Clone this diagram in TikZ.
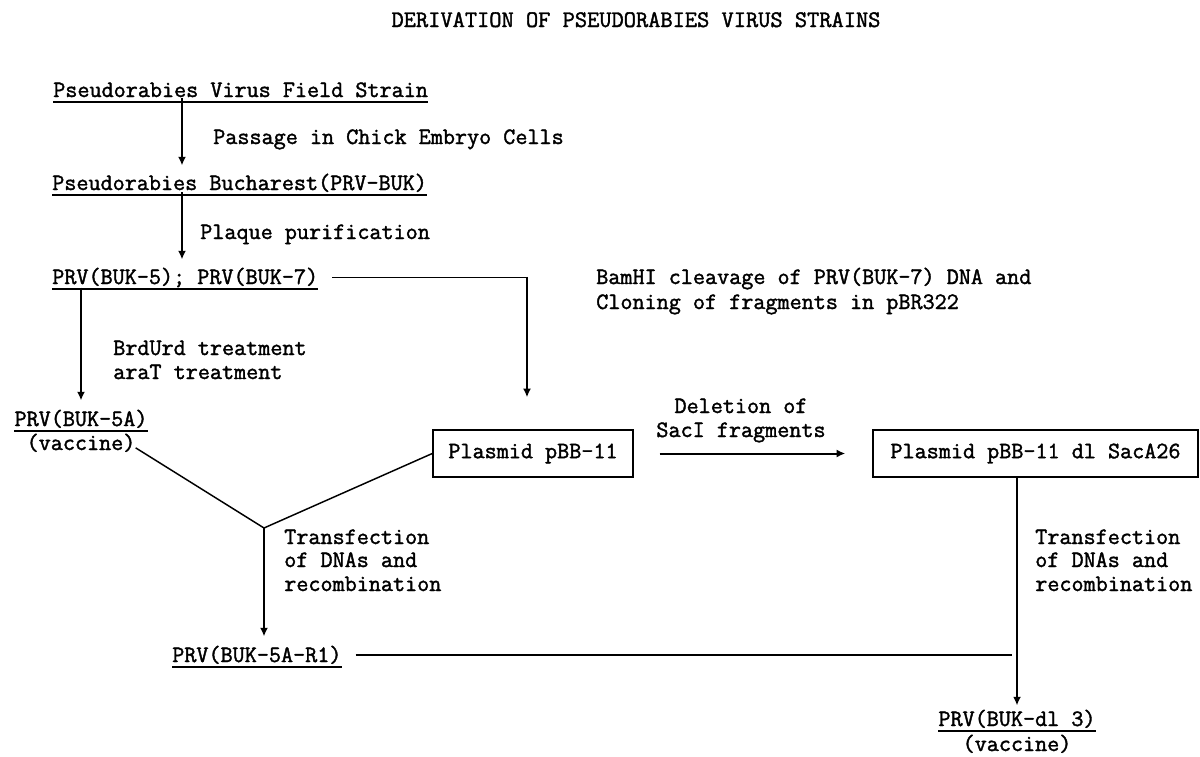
\documentclass[tikz,border=0pt]{standalone}
\usepackage{fontspec}
\newfontfamily\tw{Latin Modern Mono}[UprightFont=*, BoldFont=*, BoldFeatures={FakeBold=1.6}]
\usetikzlibrary{arrows.meta,calc}
\begin{document}
\begin{tikzpicture}[x=0.75pt,y=-0.75pt,
  txt/.style={inner sep=0pt, font=\tw\bfseries\fontsize{17.6}{18}\selectfont},
  ttl/.style={inner sep=0pt, font=\tw\bfseries\fontsize{17.8}{18}\selectfont},
  stepbox/.style={draw, line width=1.1pt, inner sep=0pt, minimum height=35.25pt, font=\tw\bfseries\fontsize{17.6}{18}\selectfont},
  arr/.style={line width=1.5pt, -{Latex[length=6.5pt,width=6pt]}},
  conn/.style={line width=1.1pt},
  uline/.style={line width=1.1pt}]
\fill[white] (0,0) rectangle (1200,757);
\useasboundingbox (0,0) rectangle (1200,757);

% title
\node[ttl, anchor=base] (title) at (636,27) {DERIVATION OF PSEUDORABIES VIRUS STRAINS};

% strain nodes
\node[txt, anchor=base west] (n1) at (53,97) {Pseudorabies Virus Field Strain};
\node[txt, anchor=base west] (n2) at (52,190) {Pseudorabies Bucharest(PRV-BUK)};
\node[txt, anchor=base west] (n3) at (52,284) {PRV(BUK-5); PRV(BUK-7)};
\node[txt, anchor=base] (n4) at (81,426) {PRV(BUK-5A)};
\node[txt, anchor=base] (n4b) at (81,450) {(vaccine)};
\node[txt, anchor=base west] (n5) at (172,662) {PRV(BUK-5A-R1)};
\node[txt, anchor=base] (n6) at (1017,726) {PRV(BUK-dl 3)};
\node[txt, anchor=base] (n6b) at (1017,751) {(vaccine)};

% underlines
\foreach \n in {n1,n2,n3,n4,n5,n6}{
  \draw[uline] ($(\n.base west)+(0,5)$) -- ($(\n.base east)+(0,5)$);
}

% boxes
\node[stepbox, minimum width=150pt] (b1) at (533,453.5) {Plasmid pBB-11};
\node[stepbox, minimum width=243.75pt] (b2) at (1035.5,453.5) {Plasmid pBB-11 dl SacA26};

% labels
\node[txt, anchor=base west] (l1) at (213,144) {Passage in Chick Embryo Cells};
\node[txt, anchor=base west] (l2) at (200,239) {Plaque purification};
\node[txt, anchor=base west] (l3a) at (596,284) {BamHI cleavage of PRV(BUK-7) DNA and};
\node[txt, anchor=base west] (l3b) at (596,309) {Cloning of fragments in pBR322};
\node[txt, anchor=base west] (l4a) at (113,355) {BrdUrd treatment};
\node[txt, anchor=base west] (l4b) at (113,379) {araT treatment};
\node[txt, anchor=base] (l5a) at (741,413) {Deletion of};
\node[txt, anchor=base] (l5b) at (741,437) {SacI fragments};
\node[txt, anchor=base west] (l6a) at (284,544) {Transfection};
\node[txt, anchor=base west] (l6b) at (284,567) {of DNAs and};
\node[txt, anchor=base west] (l6c) at (284,591) {recombination};
\node[txt, anchor=base west] (l7a) at (1035,544) {Transfection};
\node[txt, anchor=base west] (l7b) at (1035,567) {of DNAs and};
\node[txt, anchor=base west] (l7c) at (1035,591) {recombination};

% helper coordinates
\coordinate (x1) at (182,0);
\coordinate (k) at (527,0);
\coordinate (J) at (264,528);

% connectors
\draw[arr] (n1.south -| x1) -- ($(n2.north -| x1)+(0,-8)$);
\draw[arr] (n2.south -| x1) -- ($(n3.north -| x1)+(0,-8)$);
\draw[arr] (n3.south -| n4) -- ($(n4.north)+(0,-9)$);
\draw[conn] ($(n3.east)+(14,0)$) -- ($(n3.east -| k)$);
\draw[arr] ($(n3.east -| k)+(0,-0.5)$) -- ($(b1.north -| k)+(0,-32)$);
\draw[conn] ($(n4b.east)+(0,5)$) -- (J);
\draw[conn] (b1.west) -- (J);
\draw[arr] (J) -- ($(n5.north -| J)+(0,-9)$);
\draw[arr, shorten <=19.5pt, shorten >=20.25pt] (b1.east) -- (b2.west);
\draw[arr] (b2.south -| n6) -- ($(n6.north)+(0,-4)$);
\draw[conn] ($(n5.east)+(14,0)$) -- ($(n5.east -| n6)+(-5,0)$);
\end{tikzpicture}
\end{document}
